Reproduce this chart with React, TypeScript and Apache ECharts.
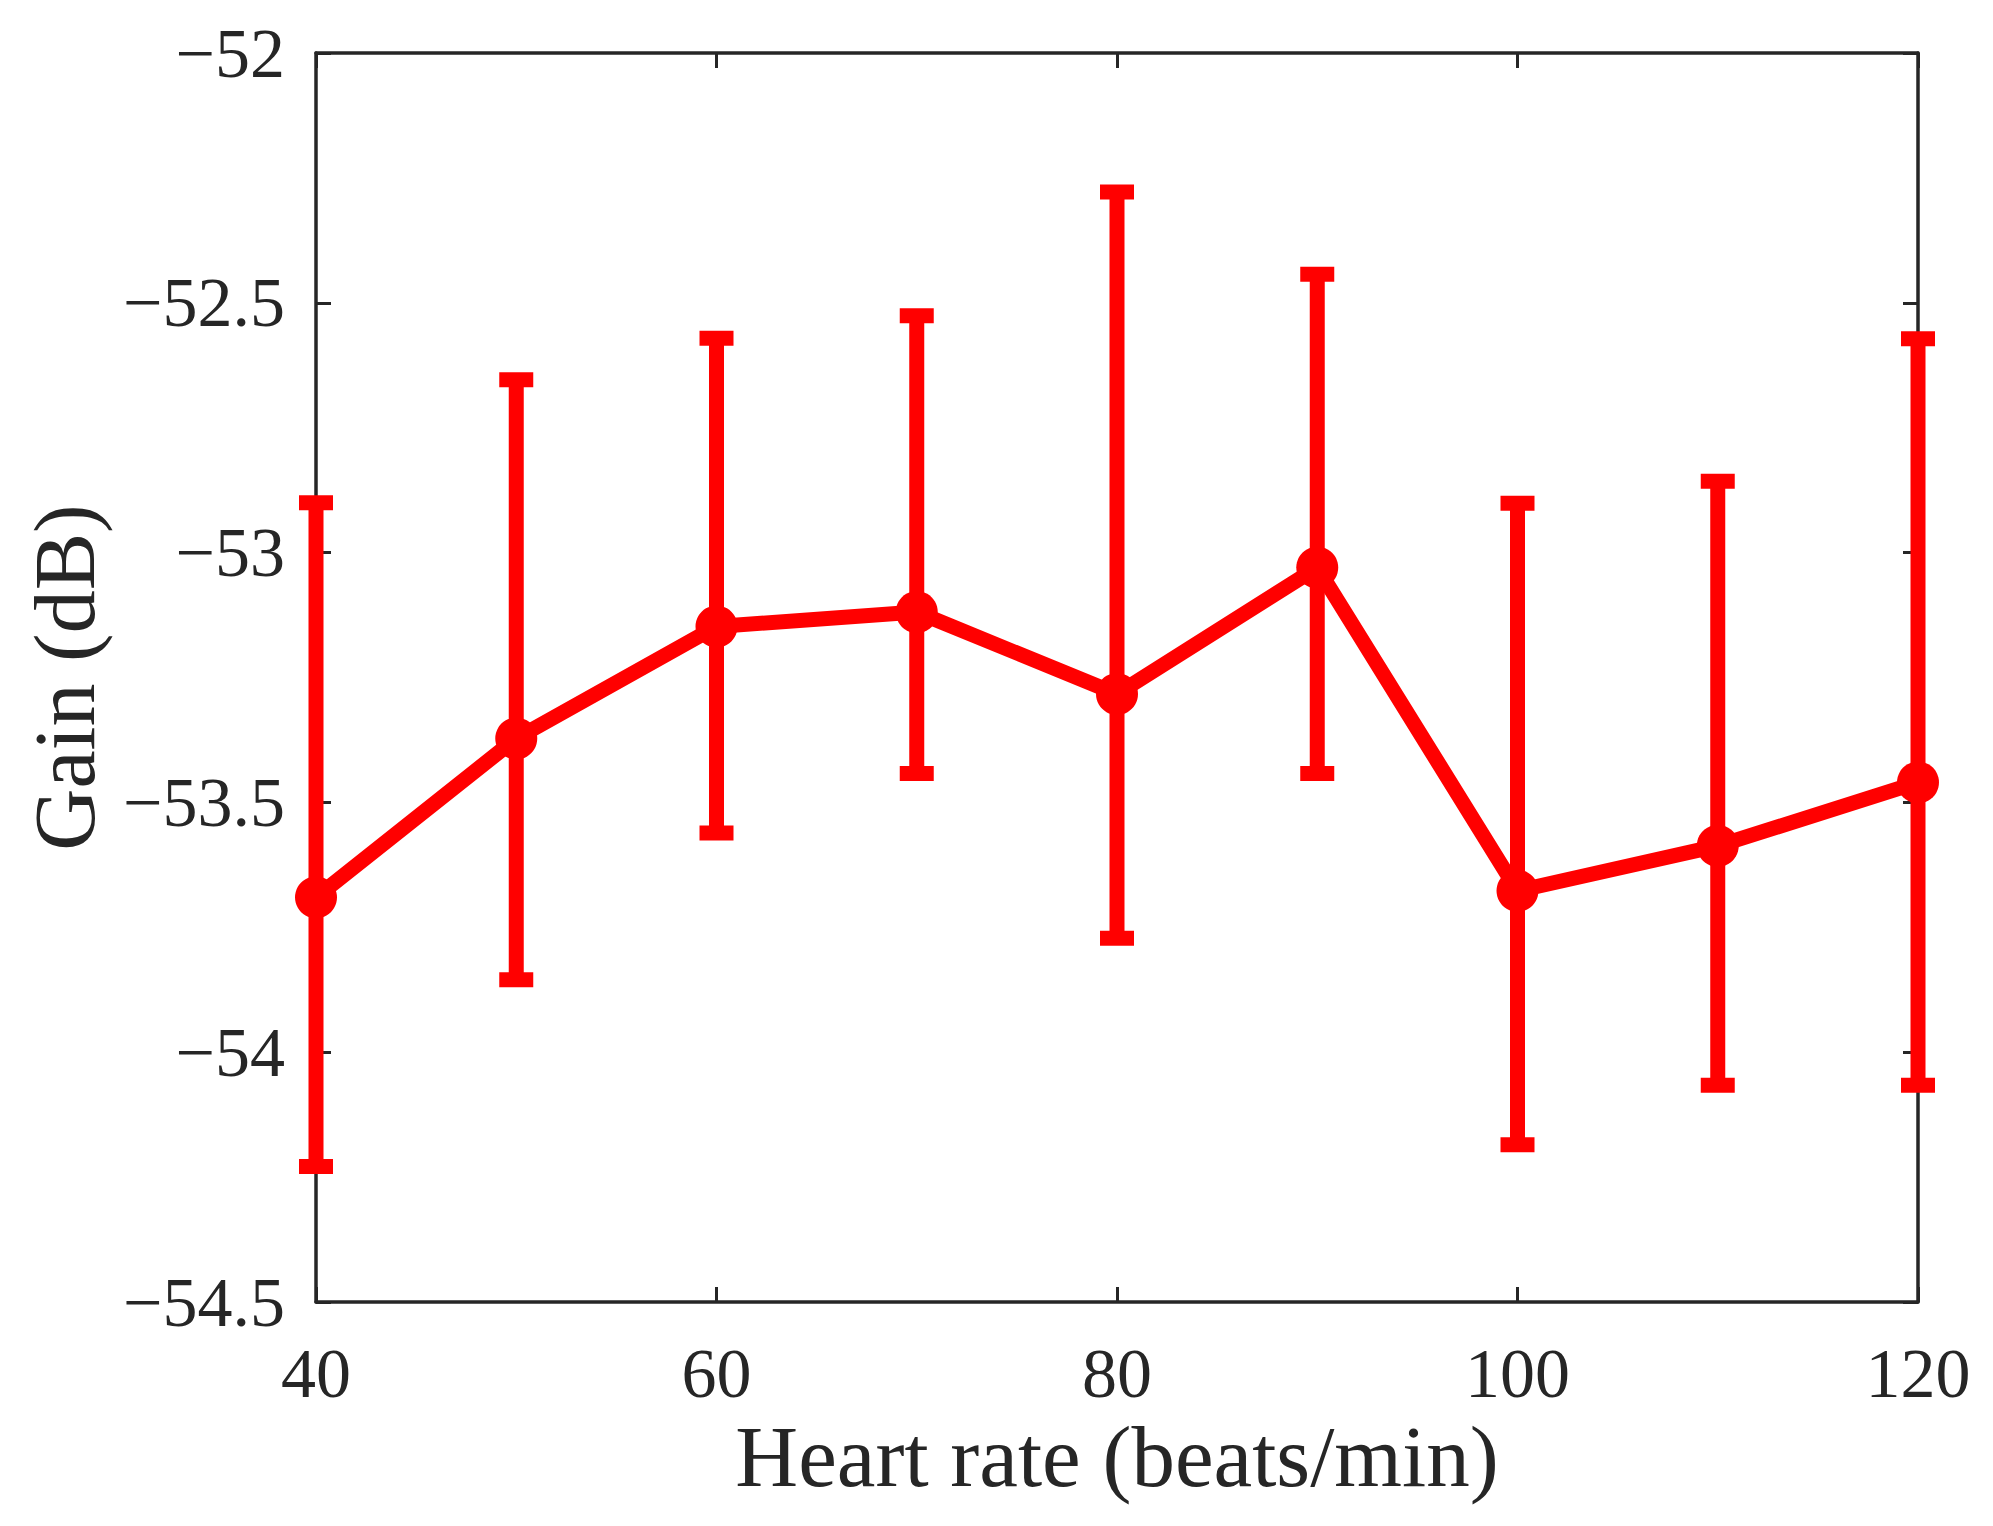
import React, { useEffect, useRef } from "react";
import * as echarts from "echarts";

const heartRate = [40, 50, 60, 70, 80, 90, 100, 110, 120];
const gainMean = [-53.69, -53.372, -53.148, -53.119, -53.283, -53.03, -53.677, -53.587, -53.46];
const gainUpper = [-52.9, -52.654, -52.571, -52.526, -52.278, -52.443, -52.901, -52.857, -52.572];
const gainLower = [-54.229, -53.855, -53.561, -53.442, -53.772, -53.442, -54.185, -54.066, -54.066];

const xMin = 40;
const xMax = 120;
const xStep = 20;
const yMin = -54.5;
const yMax = -52;
const yStep = 0.5;

const FONT = "'Liberation Serif', 'Times New Roman', serif";
const INK = "#262626";
const RED = "#ff0000";

const fmt = (v: number) => String(v).replace("-", "\u2212");

export default function App() {
  const ref = useRef<HTMLDivElement>(null);

  useEffect(() => {
    if (!ref.current) return;
    const chart = echarts.init(ref.current, null, { renderer: "svg" });

    const meanData = heartRate.map((x, i) => [x, gainMean[i]]);
    const barData = heartRate.map((x, i) => [x, gainLower[i], gainUpper[i]]);

    const axisLine = { show: true, onZero: false, lineStyle: { color: INK, width: 3.5 } };
    const axisTick = { show: true, inside: true, length: 15, lineStyle: { color: INK, width: 3 } };

    chart.setOption({
      animation: false,
      backgroundColor: "#ffffff",
      grid: { left: 316, top: 53, right: 75, bottom: 224, containLabel: false },
      xAxis: [
        {
          type: "value",
          min: xMin,
          max: xMax,
          interval: xStep,
          position: "bottom",
          axisLine,
          axisTick,
          splitLine: { show: false },
          axisLabel: {
            show: true,
            margin: 36,
            color: INK,
            fontFamily: FONT,
            fontSize: 70,
            formatter: fmt,
          },
          name: "Heart rate (beats/min)",
          nameLocation: "middle",
          nameGap: 110,
          nameTextStyle: { color: INK, fontFamily: FONT, fontSize: 87 },
        },
        {
          type: "value",
          min: xMin,
          max: xMax,
          interval: xStep,
          position: "top",
          axisLine,
          axisTick,
          splitLine: { show: false },
          axisLabel: { show: false },
        },
      ],
      yAxis: [
        {
          type: "value",
          min: yMin,
          max: yMax,
          interval: yStep,
          position: "left",
          axisLine,
          axisTick,
          splitLine: { show: false },
          axisLabel: {
            show: true,
            margin: 31,
            color: INK,
            fontFamily: FONT,
            fontSize: 70,
            formatter: fmt,
          },
          name: "Gain (dB)",
          nameLocation: "middle",
          nameGap: 208,
          nameTextStyle: { color: INK, fontFamily: FONT, fontSize: 86 },
        },
        {
          type: "value",
          min: yMin,
          max: yMax,
          interval: yStep,
          position: "right",
          axisLine,
          axisTick,
          splitLine: { show: false },
          axisLabel: { show: false },
        },
      ],
      series: [
        {
          type: "custom",
          xAxisIndex: 0,
          yAxisIndex: 0,
          data: barData,
          encode: { x: 0, y: [1, 2] },
          clip: false,
          z: 3,
          renderItem: (params: any, api: any) => {
            const x = api.value(0);
            const lo = api.value(1);
            const hi = api.value(2);
            const pHi = api.coord([x, hi]);
            const pLo = api.coord([x, lo]);
            const half = 17;
            const style = { stroke: RED, lineWidth: 15, fill: null };
            return {
              type: "group",
              children: [
                { type: "line", shape: { x1: pHi[0], y1: pHi[1], x2: pLo[0], y2: pLo[1] }, style },
                { type: "line", shape: { x1: pHi[0] - half, y1: pHi[1], x2: pHi[0] + half, y2: pHi[1] }, style },
                { type: "line", shape: { x1: pLo[0] - half, y1: pLo[1], x2: pLo[0] + half, y2: pLo[1] }, style },
              ],
            };
          },
        },
        {
          type: "line",
          xAxisIndex: 0,
          yAxisIndex: 0,
          data: meanData,
          clip: false,
          z: 4,
          symbol: "circle",
          symbolSize: 42,
          showSymbol: true,
          lineStyle: { color: RED, width: 15 },
          itemStyle: { color: RED },
        },
      ],
    });

    return () => chart.dispose();
  }, []);

  return (
    <div
      ref={ref}
      style={{ position: "fixed", left: 0, top: 0, width: 1993, height: 1526, background: "#ffffff" }}
    />
  );
}
